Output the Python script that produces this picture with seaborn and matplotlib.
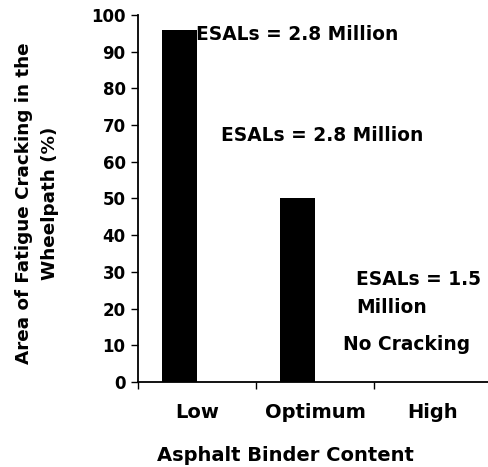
import matplotlib
matplotlib.use("Agg")
import matplotlib.pyplot as plt
import seaborn as sns
import pandas as pd

# Data
binder_content = ["Low", "Optimum", "High"]
cracking_pct = [96, 50, 0]
series = ["Cracking", "Spacer"]
y_ticks = list(range(0, 101, 10))

df = pd.DataFrame({
    "content": binder_content * 2,
    "cracking": cracking_pct + [0, 0, 0],
    "series": [series[0]] * 3 + [series[1]] * 3,
})

sns.set_theme(style="white")
plt.rcParams["font.family"] = ["DejaVu Sans"]
plt.rcParams["font.weight"] = "bold"
plt.rcParams["text.color"] = "black"
plt.rcParams["axes.labelcolor"] = "black"
plt.rcParams["xtick.color"] = "black"
plt.rcParams["ytick.color"] = "black"

fig = plt.figure(figsize=(4.88, 4.67), dpi=100)
ax = fig.add_axes([138 / 488, 1 - 382 / 467, 354 / 488, 367 / 467])

sns.barplot(data=df, x="content", y="cracking", hue="series", order=binder_content,
            hue_order=series, palette=["black", "white"], width=0.6,
            saturation=1, legend=False, ax=ax, linewidth=0)

ax.set_xlim(-0.5, 2.5)
ax.set_ylim(0, 100)
ax.set_yticks(y_ticks)
ax.set_yticklabels([str(v) for v in y_ticks], fontsize=12, fontweight="bold", color="black")

ax.set_xticks(range(len(binder_content)))
ax.set_xticklabels(binder_content, fontsize=14, fontweight="bold", color="black")
ax.set_xticks([-0.5, 0.5, 1.5, 2.5], minor=True)
ax.tick_params(axis="x", which="major", length=0, pad=15)
ax.tick_params(axis="x", which="minor", length=5, width=1, color="black", direction="out", bottom=True)
ax.tick_params(axis="y", length=5, width=1, color="black", direction="out", left=True, pad=4)

for side in ["top", "right"]:
    ax.spines[side].set_visible(False)
for side in ["left", "bottom"]:
    ax.spines[side].set_color("black")
    ax.spines[side].set_linewidth(1.3)

ax.set_xlabel("Asphalt Binder Content", fontsize=14, fontweight="bold", color="black")
ax.xaxis.set_label_coords((285 - 138) / 354, (382 - 446) / 367)
ax.set_ylabel("Area of Fatigue Cracking in the\nWheelpath (%)", fontsize=13.2,
              fontweight="bold", linespacing=1.6, color="black")
ax.yaxis.set_label_coords((59 - 138) / 354, (382 - 203) / 367)

txt = dict(fontsize=13.4, fontweight="bold", color="black", ha="left", va="center")
ax.text(-0.005, 94.6, "ESALs = 2.8 Million", **txt)
ax.text(0.2, 67.2, "ESALs = 2.8 Million", **txt)
ax.text(1.35, 27.8, "ESALs = 1.5", **txt)
ax.text(1.35, 20.2, "Million", **txt)
ax.text(1.235, 10.2, "No Cracking", **txt)

fig.savefig("out.png", dpi=100)
